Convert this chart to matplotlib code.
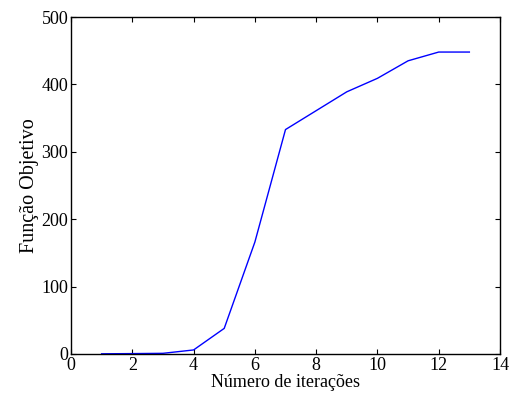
import matplotlib
matplotlib.use("Agg")
import matplotlib.pyplot as plt

# iterations and objective function values
iteracoes = [1, 2, 3, 4, 5, 6, 7, 8, 9, 10, 11, 12, 13]
objetivo = [0.3, 0.6, 1.0, 6, 38, 166, 333, 361, 389, 409, 435, 448, 448]

plt.rcParams["font.family"] = ["Liberation Serif", "DejaVu Serif"]

fig = plt.figure(figsize=(5.15, 3.98), dpi=100)
ax = fig.add_axes([71 / 515, 1 - 354 / 398, (500 - 71) / 515, (354 - 17) / 398])
ax.plot(iteracoes, objetivo, color="blue", linewidth=1)

ax.set_xlim(0, 14)
ax.set_ylim(0, 500)
ax.set_xticks(range(0, 15, 2))
ax.set_yticks(range(0, 501, 100))
ax.tick_params(direction="in", top=True, right=True, labelsize=13, length=3.5, width=0.8, pad=2)
for s in ax.spines.values():
    s.set_linewidth(1.0)

ax.set_xlabel("Número de iterações", fontsize=13, labelpad=0)
ax.set_ylabel("Função Objetivo", fontsize=14.5, labelpad=1.5)

fig.savefig("out.png", dpi=100)
